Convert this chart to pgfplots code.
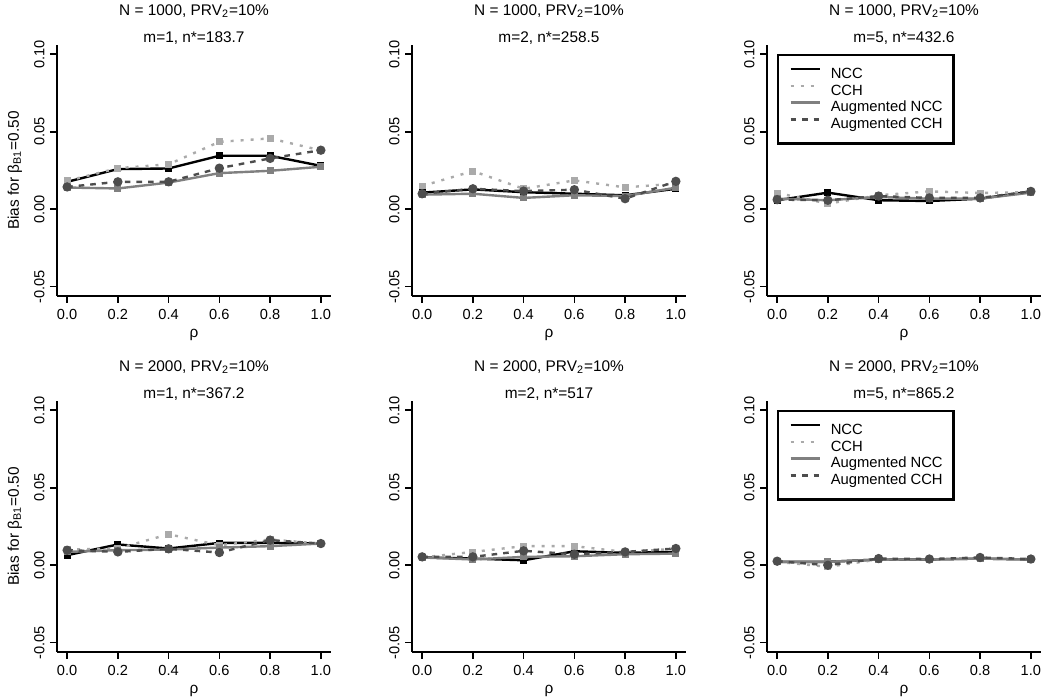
\documentclass[border=0pt]{standalone}
\usepackage{fontspec}
\setmainfont{Liberation Sans}
\usepackage{pgfplots}
\pgfplotsset{compat=1.18}
\definecolor{cchgray}{HTML}{AAAAAA}
\definecolor{angray}{HTML}{808080}
\definecolor{acgray}{HTML}{4D4D4D}
\newcommand{\tkf}{\fontsize{7.3}{8.5}\selectfont}
\newcommand{\ttlf}{\fontsize{7.7}{9}\selectfont}
\newcommand{\lgf}{\fontsize{7.4}{8.5}\selectfont}
\pgfplotsset{
  panel/.style={
    scale only axis, width=137pt, height=125.5pt, anchor=south west, clip=false,
    xmin=-0.04, xmax=1.04, ymin=-0.056, ymax=0.106,
    axis x line*=bottom, axis y line*=left,
    axis line style={black, line width=1.2pt, -},
    xtick={0,0.2,0.4,0.6,0.8,1}, xticklabels={0.0,0.2,0.4,0.6,0.8,1.0},
    ytick={-0.05,0,0.05,0.1}, yticklabels={-0.05,0.00,0.05,0.10},
    tick align=outside, major tick length=3.5pt,
    tick style={black, line width=0.8pt},
    tick label style={font=\tkf, text=black},
    xticklabel style={anchor=north, inner sep=3pt},
    yticklabel style={rotate=90, anchor=south, inner sep=2.5pt},
    every axis plot/.append style={line width=1.2pt},
  },
  ncc/.style={black, solid, mark=square*, mark size=1.1pt, mark options={solid, fill=black}},
  cch/.style={cchgray, dash pattern=on 1.5pt off 3.5pt, mark=square*, mark size=1.1pt, mark options={solid, fill=cchgray}},
  ancc/.style={angray, solid, mark=square*, mark size=1.1pt, mark options={solid, fill=angray}},
  acch/.style={acgray, dash pattern=on 2.8pt off 3pt, mark=*, mark size=1.7pt, mark options={solid, fill=acgray}},
  withlegend/.style={
    legend style={at={(0.0365,0.964)}, anchor=north west, draw=black, line width=1.2pt,
      font=\lgf, inner xsep=5.5pt, inner ysep=6pt, row sep=1.4pt, column sep=5pt,
      nodes={inner sep=0pt, text height=5.5pt, text depth=1.5pt}},
    legend cell align=left,
    legend image code/.code={\draw[##1, line width=1.3pt] (0pt,2.6pt) -- (14.5pt,2.6pt);},
  },
}
\newcommand{\paneltitle}[2]{%
  \node[anchor=base, font=\ttlf, yshift=14.8pt] at (rel axis cs:0.5,1) {#1};
  \node[anchor=base, font=\ttlf, yshift=1.2pt] at (rel axis cs:0.5,1) {#2};
  \node[anchor=base, font=\ttlf, yshift=-21pt] at (rel axis cs:0.5,0) {ρ};
}
\newcommand{\biaslabel}{%
  \node[font=\ttlf, xshift=-21pt, rotate=90] at (rel axis cs:0,0.5) {Bias for β\textsubscript{B1}=0.50};
}
\begin{document}
\begin{tikzpicture}
\useasboundingbox (0,0) rectangle (525pt,350pt);
% ---------- Row 1 ----------
\begin{axis}[panel, at={(28.5pt,202pt)}]
\addplot[ncc] coordinates {(0,0.0177)(0.2,0.0259)(0.4,0.0263)(0.6,0.0345)(0.8,0.0345)(1,0.028)};
\addplot[cch] coordinates {(0,0.0183)(0.2,0.0265)(0.4,0.029)(0.6,0.0435)(0.8,0.0457)(1,0.038)};
\addplot[ancc] coordinates {(0,0.014)(0.2,0.0134)(0.4,0.0172)(0.6,0.0233)(0.8,0.0248)(1,0.0274)};
\addplot[acch] coordinates {(0,0.0144)(0.2,0.0177)(0.4,0.0177)(0.6,0.0265)(0.8,0.0328)(1,0.0381)};
\paneltitle{N = 1000, PRV\textsubscript{2}=10\%}{m=1, n*=183.7}
\biaslabel
\end{axis}
\begin{axis}[panel, at={(206pt,202pt)}]
\addplot[ncc] coordinates {(0,0.0107)(0.2,0.0128)(0.4,0.011)(0.6,0.010)(0.8,0.009)(1,0.0132)};
\addplot[cch] coordinates {(0,0.015)(0.2,0.0246)(0.4,0.0132)(0.6,0.0186)(0.8,0.0141)(1,0.0165)};
\addplot[ancc] coordinates {(0,0.0094)(0.2,0.010)(0.4,0.0073)(0.6,0.009)(0.8,0.0085)(1,0.0139)};
\addplot[acch] coordinates {(0,0.010)(0.2,0.0132)(0.4,0.0117)(0.6,0.0126)(0.8,0.0068)(1,0.018)};
\paneltitle{N = 1000, PRV\textsubscript{2}=10\%}{m=2, n*=258.5}
\end{axis}
\begin{axis}[panel, withlegend, at={(383.5pt,202pt)}]
\addplot[ncc] coordinates {(0,0.0058)(0.2,0.0107)(0.4,0.0058)(0.6,0.0053)(0.8,0.0068)(1,0.0115)};
\addplot[cch] coordinates {(0,0.0105)(0.2,0.0036)(0.4,0.009)(0.6,0.0115)(0.8,0.0105)(1,0.011)};
\addplot[ancc] coordinates {(0,0.0068)(0.2,0.0058)(0.4,0.0079)(0.6,0.0068)(0.8,0.0068)(1,0.0107)};
\addplot[acch] coordinates {(0,0.0062)(0.2,0.0058)(0.4,0.0085)(0.6,0.0073)(0.8,0.0073)(1,0.0115)};
\legend{NCC,CCH,Augmented NCC,Augmented CCH}
\paneltitle{N = 1000, PRV\textsubscript{2}=10\%}{m=5, n*=432.6}
\end{axis}
% ---------- Row 2 ----------
\begin{axis}[panel, at={(28.5pt,24pt)}]
\addplot[ncc] coordinates {(0,0.0065)(0.2,0.0134)(0.4,0.0108)(0.6,0.0144)(0.8,0.0144)(1,0.014)};
\addplot[cch] coordinates {(0,0.0101)(0.2,0.0108)(0.4,0.020)(0.6,0.0129)(0.8,0.0166)(1,0.014)};
\addplot[ancc] coordinates {(0,0.0086)(0.2,0.0097)(0.4,0.0101)(0.6,0.0114)(0.8,0.0123)(1,0.014)};
\addplot[acch] coordinates {(0,0.0097)(0.2,0.0086)(0.4,0.0106)(0.6,0.0082)(0.8,0.0162)(1,0.014)};
\paneltitle{N = 2000, PRV\textsubscript{2}=10\%}{m=1, n*=367.2}
\biaslabel
\end{axis}
\begin{axis}[panel, at={(206pt,24pt)}]
\addplot[ncc] coordinates {(0,0.005)(0.2,0.0043)(0.4,0.0032)(0.6,0.009)(0.8,0.008)(1,0.0086)};
\addplot[cch] coordinates {(0,0.005)(0.2,0.0086)(0.4,0.0123)(0.6,0.0123)(0.8,0.0086)(1,0.0106)};
\addplot[ancc] coordinates {(0,0.005)(0.2,0.0037)(0.4,0.0054)(0.6,0.0058)(0.8,0.0071)(1,0.0075)};
\addplot[acch] coordinates {(0,0.0054)(0.2,0.0054)(0.4,0.0093)(0.6,0.0071)(0.8,0.0086)(1,0.0108)};
\paneltitle{N = 2000, PRV\textsubscript{2}=10\%}{m=2, n*=517}
\end{axis}
\begin{axis}[panel, withlegend, at={(383.5pt,24pt)}]
\addplot[ncc] coordinates {(0,0.0022)(0.2,0.0022)(0.4,0.0037)(0.6,0.0037)(0.8,0.0043)(1,0.0037)};
\addplot[cch] coordinates {(0,0.0022)(0.2,-0.001)(0.4,0.0037)(0.6,0.0037)(0.8,0.0043)(1,0.0037)};
\addplot[ancc] coordinates {(0,0.0022)(0.2,0.0022)(0.4,0.0037)(0.6,0.0037)(0.8,0.0043)(1,0.0037)};
\addplot[acch] coordinates {(0,0.0026)(0.2,0.0)(0.4,0.0043)(0.6,0.004)(0.8,0.005)(1,0.004)};
\legend{NCC,CCH,Augmented NCC,Augmented CCH}
\paneltitle{N = 2000, PRV\textsubscript{2}=10\%}{m=5, n*=865.2}
\end{axis}
\end{tikzpicture}
\end{document}
